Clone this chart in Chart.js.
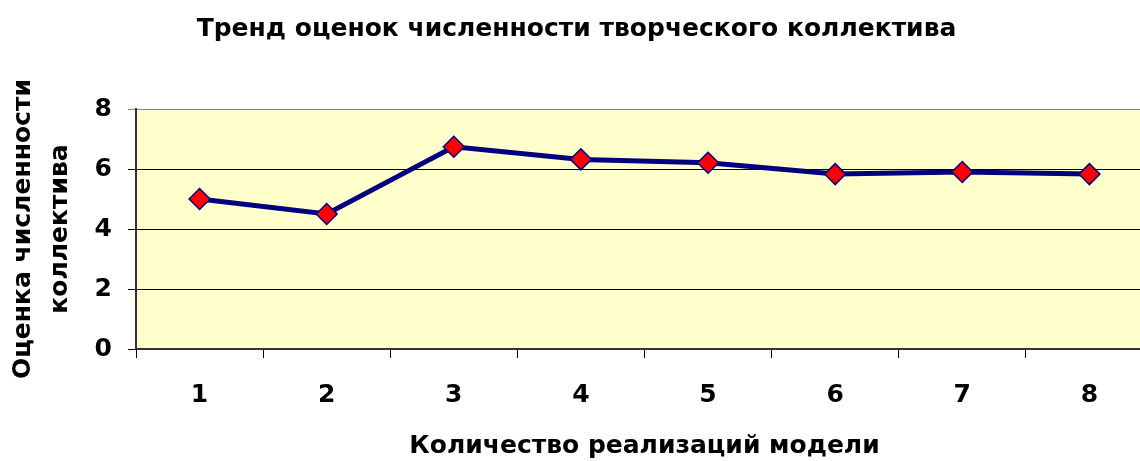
<!DOCTYPE html>
<html lang="ru">
<head>
    <meta charset="UTF-8">
    <title>Тренд оценок численности творческого коллектива</title>
    <style>
        html, body {
            margin: 0;
            overflow: hidden;
            background: #fff;
        }
        #wrap {
            width: 1153px;
            min-width: 1153px;
            height: 461px;
        }
        #trendChart {
            display: block;
            width: 1153px !important;
            max-width: none !important;
            height: 461px !important;
        }
    </style>
</head>
<body>
    <div id="wrap">
        <canvas id="trendChart" width="1153" height="461"></canvas>
    </div>

    <script src="https://cdn.jsdelivr.net/npm/chart.js"></script>
    <script>
        const runs = ['1', '2', '3', '4', '5', '6', '7', '8'];
        const estimates = [5.0, 4.5, 6.74, 6.32, 6.21, 5.83, 5.9, 5.83];
        const yTicks = [0, 2, 4, 6, 8];

        const fontFamily = '"DejaVu Sans", Arial, sans-serif';

        // light yellow fill behind the plot area
        const plotBackground = {
            id: 'plotBackground',
            beforeDraw(chart) {
                const { ctx, chartArea } = chart;
                ctx.save();
                ctx.fillStyle = '#FFFFCC';
                ctx.fillRect(chartArea.left, chartArea.top,
                    chartArea.right - chartArea.left, chartArea.bottom - chartArea.top);
                ctx.restore();
            }
        };

        const ctx = document.getElementById('trendChart').getContext('2d');
        const chart = new Chart(ctx, {
            type: 'line',
            data: {
                labels: runs,
                datasets: [{
                    data: estimates,
                    borderColor: '#000080',
                    borderWidth: 5,
                    tension: 0,
                    pointStyle: 'rectRot',
                    pointRadius: 10.5,
                    pointBackgroundColor: '#FF0000',
                    pointBorderColor: '#000080',
                    pointBorderWidth: 1.5
                }]
            },
            options: {
                responsive: false,
                animation: false,
                // no extra room for the markers: the plot runs to the canvas edge
                layout: { padding: 0, autoPadding: false },
                plugins: {
                    legend: { display: false },
                    tooltip: { enabled: false },
                    title: {
                        display: true,
                        text: 'Тренд оценок численности творческого коллектива',
                        color: '#000',
                        font: { family: fontFamily, size: 25, weight: 'bold', lineHeight: 1.2 },
                        padding: { top: 14, bottom: 65 }
                    }
                },
                scales: {
                    x: {
                        offset: true,
                        grid: {
                            offset: true,
                            drawOnChartArea: false,
                            drawTicks: true,
                            tickLength: 9,
                            color: '#000'
                        },
                        border: { color: '#333', width: 2 },
                        ticks: {
                            color: '#000',
                            padding: 22,
                            font: { family: fontFamily, size: 25, weight: 'bold' }
                        },
                        title: {
                            display: true,
                            text: 'Количество реализаций модели',
                            color: '#000',
                            font: { family: fontFamily, size: 25, weight: 'bold', lineHeight: 1.0 },
                            padding: { top: 0, bottom: 2 }
                        },
                        afterFit(scale) { scale.height = 112; }
                    },
                    y: {
                        min: 0,
                        max: 8,
                        afterBuildTicks(scale) {
                            scale.ticks = yTicks.map(v => ({ value: v }));
                        },
                        grid: {
                            color: c => (c.tick && c.tick.value === 8) ? '#808080' : '#000',
                            tickLength: 8
                        },
                        border: { color: '#333', width: 2 },
                        ticks: {
                            color: '#000',
                            padding: 16,
                            font: { family: fontFamily, size: 25, weight: 'bold' }
                        },
                        title: {
                            display: true,
                            text: ['Оценка численности', 'коллектива'],
                            color: '#000',
                            font: { family: fontFamily, size: 25, weight: 'bold', lineHeight: 1.48 },
                            padding: { top: 5, bottom: 0 }
                        },
                        afterFit(scale) { scale.width = 136; }
                    }
                }
            },
            plugins: [plotBackground]
        });
    </script>
</body>
</html>
